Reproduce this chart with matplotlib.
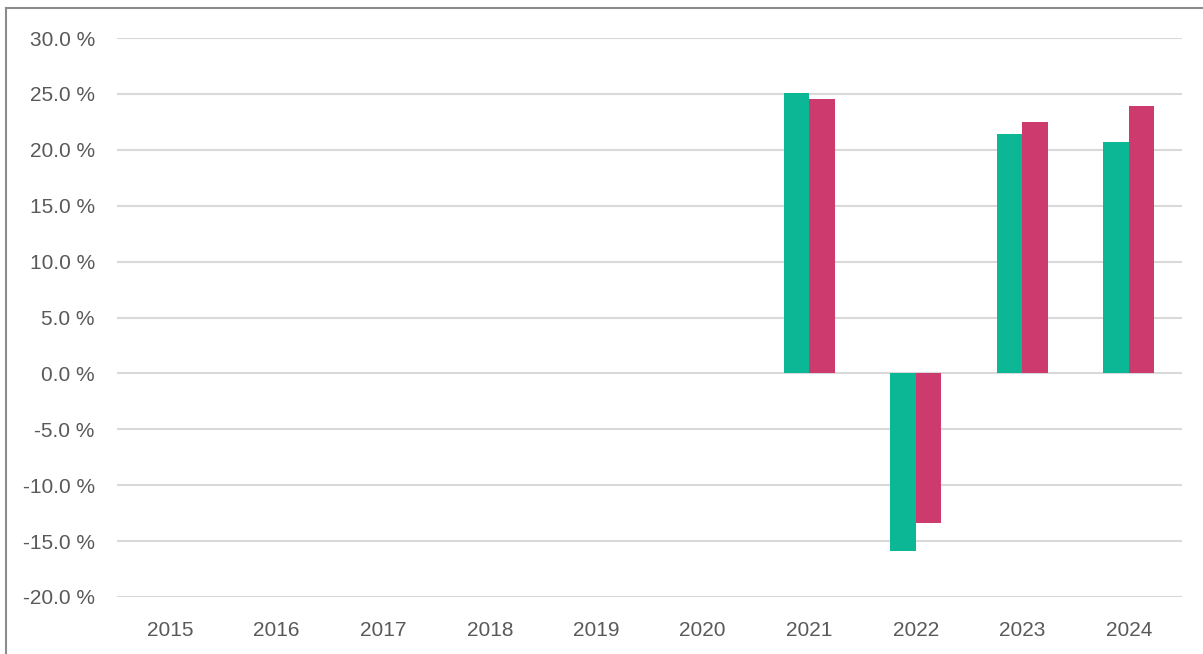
import matplotlib.pyplot as plt
import numpy as np
from matplotlib.lines import Line2D

# data
years = ['2015', '2016', '2017', '2018', '2019', '2020', '2021', '2022', '2023', '2024']
series_a = [np.nan, np.nan, np.nan, np.nan, np.nan, np.nan, 25.1, -15.9, 21.4, 20.7]
series_b = [np.nan, np.nan, np.nan, np.nan, np.nan, np.nan, 24.5, -13.4, 22.5, 23.9]
yticks = [-20, -15, -10, -5, 0, 5, 10, 15, 20, 25, 30]

plt.rcParams['font.family'] = ['Liberation Sans', 'DejaVu Sans']

fig = plt.figure(figsize=(12.03, 6.54), dpi=100)
ax = fig.add_axes([117/1203, 57/654, 1065/1203, 559/654])

x = np.arange(len(years))
w = 0.24
ax.bar(x - w/2, series_a, width=w, color='#0BB795', zorder=3)
ax.bar(x + w/2, series_b, width=w, color='#CC3A6E', zorder=3)

ax.set_xlim(-0.5, len(years) - 0.5)
ax.set_ylim(-20, 30)
ax.set_yticks(yticks)
ax.set_yticklabels([f'{v:.1f} %' for v in yticks])
ax.set_xticks(x)
ax.set_xticklabels(years)
ax.yaxis.grid(True, color='#D9D9D9', linewidth=1.5, zorder=0)
ax.tick_params(axis='both', length=0, labelsize=15, labelcolor='#595959')
ax.tick_params(axis='y', pad=16)
ax.tick_params(axis='x', pad=17)
for s in ax.spines.values():
    s.set_visible(False)

# outer frame (top and left)
fig.add_artist(Line2D([6/1203, 1], [1 - 8/654, 1 - 8/654], color='#8C8C8C', linewidth=1.5, transform=fig.transFigure))
fig.add_artist(Line2D([6/1203, 6/1203], [0, 1 - 8/654], color='#8C8C8C', linewidth=1.5, transform=fig.transFigure))

fig.savefig('out.png', dpi=100)
